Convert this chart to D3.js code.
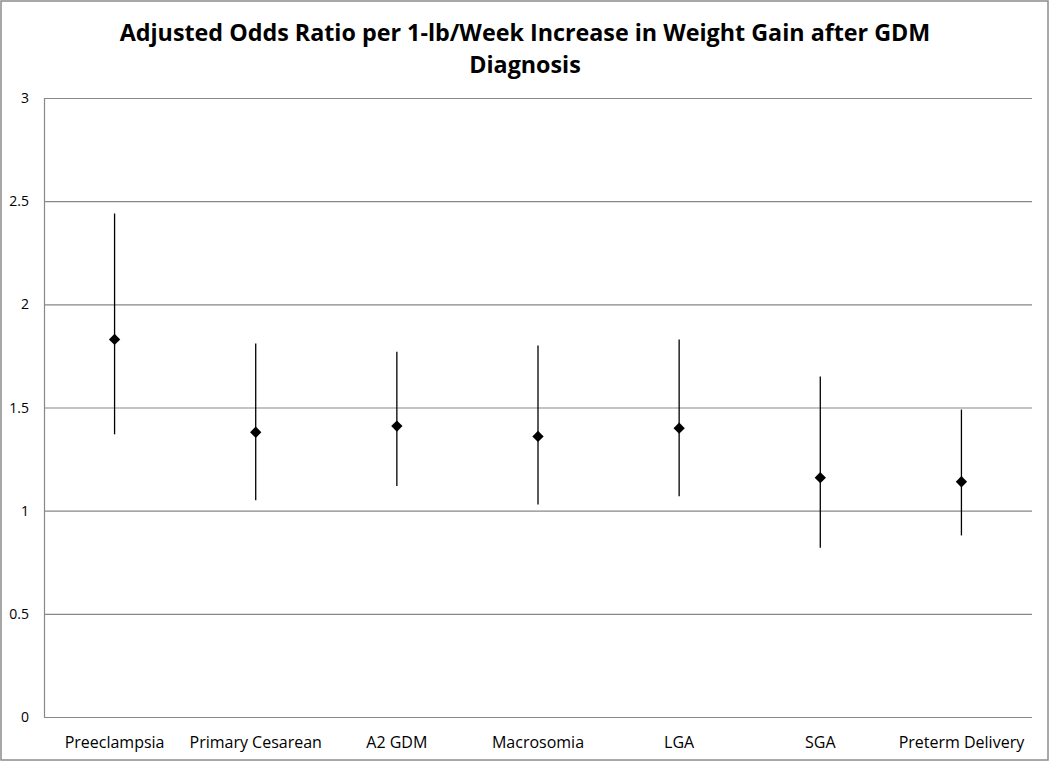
<!DOCTYPE html>
<html><head><meta charset="utf-8">
<script src="https://cdn.jsdelivr.net/npm/d3@7"></script>
<style>body{margin:0;background:#fff}svg{display:block}</style>
</head><body>
<svg id="c" width="1050" height="762"></svg>
<script>
const categories = ["Preeclampsia","Primary Cesarean","A2 GDM","Macrosomia","LGA","SGA","Preterm Delivery"];
const oddsRatio = [1.83, 1.38, 1.41, 1.36, 1.40, 1.16, 1.14];
const ciLow = [1.37, 1.05, 1.12, 1.03, 1.07, 0.82, 0.88];
const ciHigh = [2.44, 1.81, 1.77, 1.80, 1.83, 1.65, 1.49];
const yTicks = [0, 0.5, 1, 1.5, 2, 2.5, 3];
const titleLines = ["Adjusted Odds Ratio per 1-lb/Week Increase in Weight Gain after GDM", "Diagnosis"];

const svg = d3.select("#c");
const W = 1050, H = 762;
const m = {left: 44, right: 1032, top: 98, bottom: 717};
svg.append("rect").attr("x",1).attr("y",1).attr("width",W-3).attr("height",H-3)
  .attr("fill","#fff").attr("stroke","#8c8c8c").attr("stroke-width",1.5);

const x = d3.scaleBand().domain(categories).range([m.left, m.right]);
const y = d3.scaleLinear().domain([0,3]).range([m.bottom, m.top]);
const font = "'Open Sans', sans-serif";

const grid = svg.append("g");
grid.selectAll("line").data(yTicks).join("line")
  .attr("x1", m.left).attr("x2", m.right)
  .attr("y1", d=>y(d)+0.5).attr("y2", d=>y(d)+0.5)
  .attr("stroke","#888").attr("stroke-width",1.2);
svg.append("line").attr("x1",m.left+0.5).attr("x2",m.left+0.5).attr("y1",m.top).attr("y2",m.bottom)
  .attr("stroke","#888").attr("stroke-width",1.2);

svg.append("g").selectAll("text").data(yTicks).join("text")
  .attr("x", 29).attr("y", d=>y(d)+5).attr("text-anchor","end")
  .attr("font-family",font).attr("font-size",14).attr("fill","#000")
  .text(d=>d3.format("")(d));

svg.append("g").selectAll("text").data(categories).join("text")
  .attr("x", d=>x(d)+x.bandwidth()/2).attr("y", 748).attr("text-anchor","middle")
  .attr("font-family",font).attr("font-size",16).attr("fill","#000")
  .text(d=>d);

const g = svg.append("g");
categories.forEach((c,i)=>{
  const cx = x(c)+x.bandwidth()/2;
  g.append("line").attr("x1",cx).attr("x2",cx).attr("y1",y(ciHigh[i])).attr("y2",y(ciLow[i]))
    .attr("stroke","#000").attr("stroke-width",1.3);
  g.append("path").attr("d", d3.symbol(d3.symbolSquare, 64)())
    .attr("transform",`translate(${cx},${y(oddsRatio[i])}) rotate(45)`).attr("fill","#000");
});

svg.append("g").selectAll("text").data(titleLines).join("text")
  .attr("x", 525).attr("y",(d,i)=>41+i*32).attr("text-anchor","middle")
  .attr("font-family","'Liberation Sans Narrow', 'Open Sans', sans-serif").attr("font-weight","bold")
  .attr("font-size",23.3).attr("fill","#000").text(d=>d);
</script>
</body></html>
